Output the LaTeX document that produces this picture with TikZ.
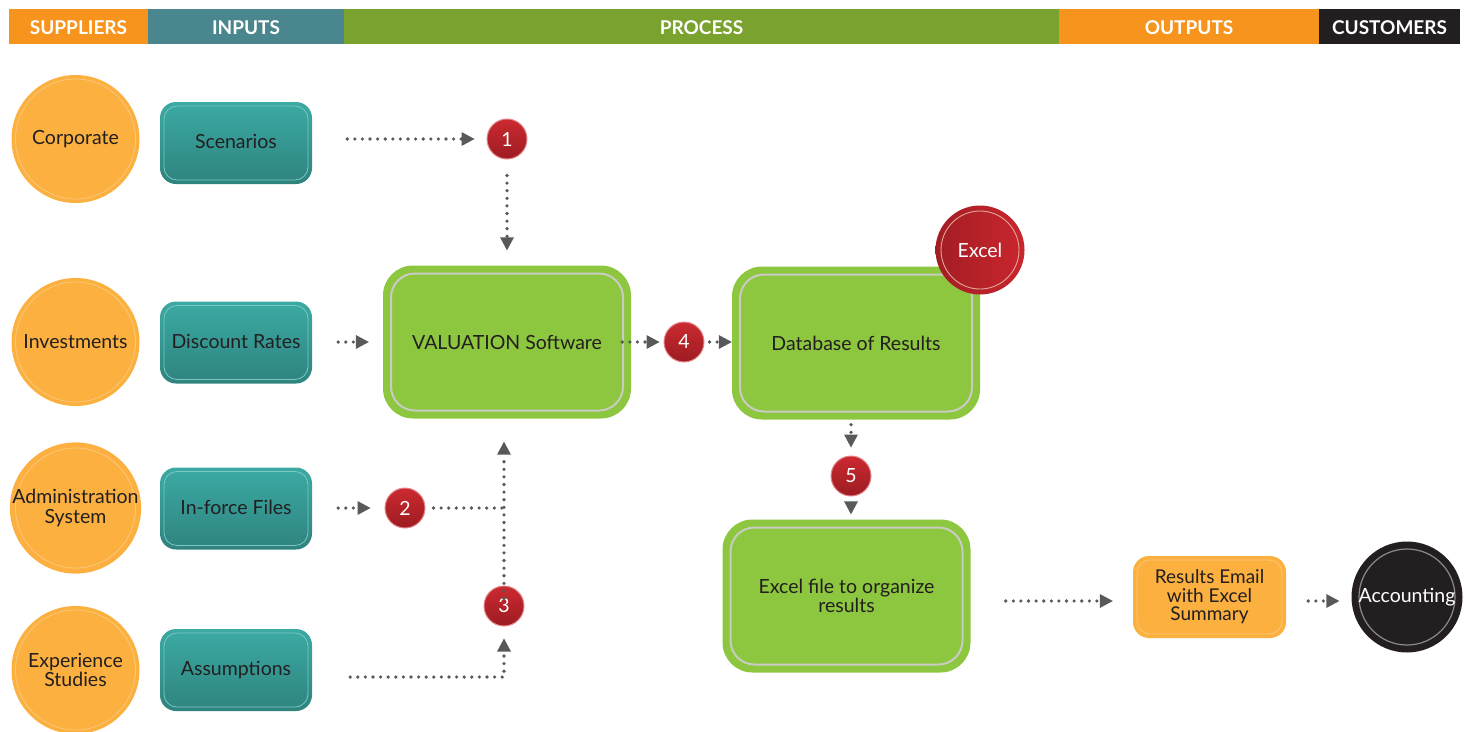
\documentclass[tikz,border=0pt]{standalone}
\usepackage{fontspec}
\setmainfont{Lato}
\usetikzlibrary{arrows.meta,calc}

\definecolor{ink}{HTML}{231F20}
\definecolor{hdrOrange}{HTML}{F7941D}
\definecolor{hdrTeal}{HTML}{4A868D}
\definecolor{hdrGreen}{HTML}{7AA22F}
\definecolor{hdrBlack}{HTML}{231F20}
\definecolor{sunOrange}{HTML}{FBB040}
\definecolor{sunRing}{HTML}{FCC877}
\definecolor{tealTop}{HTML}{3BAAA3}
\definecolor{tealBot}{HTML}{2F837F}
\definecolor{tealRing}{HTML}{7CC7C1}
\definecolor{leaf}{HTML}{8DC63F}
\definecolor{leafRing}{HTML}{C9CBC4}
\definecolor{redTop}{HTML}{CB2A30}
\definecolor{redBot}{HTML}{9C1C22}
\definecolor{redRing}{HTML}{E4868A}
\definecolor{redDark}{HTML}{A31D24}
\definecolor{redLight}{HTML}{CA262E}
\definecolor{redInner}{HTML}{E3A79A}
\definecolor{arrowGray}{HTML}{58595B}
\definecolor{accRing}{HTML}{8A8A8A}

\newcommand{\txtsize}{\fontsize{19.5}{19.5}\selectfont}

\begin{document}
\begin{tikzpicture}[x=1pt,y=-1pt,
  hdr/.style={rectangle, inner sep=0pt, outer sep=0pt, minimum height=35pt,
    text height=16pt, text depth=0pt,
    text=white, font=\fontsize{19}{19}\selectfont\bfseries},
  supplier/.style={circle, fill=sunOrange, minimum size=128pt, inner sep=0pt,
    text=ink, font=\txtsize, align=center,
    path picture={\draw[sunRing, line width=0.8pt]
      (path picture bounding box.center) circle (60pt);}},
  inputbox/.style={rectangle, rounded corners=16pt, minimum width=152pt,
    minimum height=82pt, inner sep=0pt, top color=tealTop, bottom color=tealBot,
    text=ink, font=\txtsize, text depth=3pt,
    path picture={\draw[tealRing, line width=0.8pt, rounded corners=13pt]
      ([shift={(4pt,-4pt)}]path picture bounding box.north west) rectangle
      ([shift={(-4pt,4pt)}]path picture bounding box.south east);}},
  procbox/.style={rectangle, rounded corners=30pt, minimum width=248pt,
    minimum height=153pt, inner sep=0pt, fill=leaf, text=ink, font=\txtsize,
    align=center,
    path picture={\draw[leafRing, line width=2pt, rounded corners=24pt]
      ([shift={(8pt,-8pt)}]path picture bounding box.north west) rectangle
      ([shift={(-8pt,8pt)}]path picture bounding box.south east);}},
  numdot/.style={circle, minimum size=40pt, inner sep=0pt, top color=redTop,
    bottom color=redBot, draw=redRing, line width=1pt, text=white,
    font=\txtsize},
  flowline/.style={draw=arrowGray, line width=3.6pt, line cap=round,
    dash pattern=on 0pt off 7.6pt},
  flow/.style={flowline, -{Triangle[length=13pt,width=14pt,line width=0pt]}}
]
\useasboundingbox (0,0) rectangle (1469,731);

% column headings
\node[hdr, fill=hdrOrange, minimum width=139pt] (hsup) at (78.5,26.5) {SUPPLIERS};
\node[hdr, fill=hdrTeal,   minimum width=196pt] (hin)  at (246,26.5)  {INPUTS};
\node[hdr, fill=hdrGreen,  minimum width=715pt] (hpro) at (701.5,26.5) {PROCESS};
\node[hdr, fill=hdrOrange, minimum width=260pt] (hout) at (1189,26.5) {OUTPUTS};
\node[hdr, fill=hdrBlack,  minimum width=141pt] (hcus) at (1389.5,26.5) {CUSTOMERS};

% suppliers
\node[supplier] (corp) at (75.5,139) {Corporate};
\node[supplier] (inv)  at (75.5,342) {Investments};
\node[supplier] (adm)  at (75.5,508) {Administration\\System};
\node[supplier] (exp)  at (75.5,670) {Experience\\Studies};

% inputs
\node[inputbox] (scen) at (236,143) {Scenarios};
\node[inputbox] (disc) at (236,342.5) {Discount Rates};
\node[inputbox] (inf)  at (236,508.5) {In-force Files};
\node[inputbox] (ass)  at (236,670) {Assumptions};

% process
\node[procbox] (val) at (507,342) {VALUATION Software};
\node[procbox] (db)  at (856,343) {Database of Results};
\node[procbox] (xl)  at (846.5,596) {Excel file to organize\\results};

% numbered steps
\node[numdot] (one)   at (507,139) {1};
\node[numdot] (two)   at (405,508) {2};
\node[numdot] (three) at (504,606) {3};
\node[numdot] (four)  at (684,342) {4};
\node[numdot] (five)  at (851,476) {5};

% Excel badge
\node[circle, minimum size=89pt, inner sep=0pt, left color=redDark,
  right color=redLight, text=white, font=\txtsize,
  path picture={\draw[redInner, line width=0.9pt]
    (path picture bounding box.center) circle (39pt);}] (badge) at (980,250) {Excel};

% outputs and customers
\node[rectangle, rounded corners=16pt, minimum width=153pt, minimum height=82pt,
  inner sep=0pt, fill=sunOrange, text=ink, font=\fontsize{19}{18.5}\selectfont,
  align=center,
  path picture={\draw[sunRing, line width=0.8pt, rounded corners=13pt]
    ([shift={(4pt,-4pt)}]path picture bounding box.north west) rectangle
    ([shift={(-4pt,4pt)}]path picture bounding box.south east);}]
  (res) at (1209.5,597) {Results Email\\with Excel\\Summary};
\node[circle, minimum size=111pt, inner sep=0pt, fill=hdrBlack, text=white,
  font=\fontsize{19.5}{19.5}\selectfont,
  path picture={\draw[accRing, line width=1.2pt]
    (path picture bounding box.center) circle (48pt);}] (acc) at (1407,597) {Accounting};

% connectors
\draw[flow] ([xshift=35pt]scen.east |- one.west) -- ([xshift=-12pt]one.west);
\draw[flow] ([yshift=-16pt]one.south) -- ([yshift=15pt]val.north);
\draw[flow] ([xshift=26pt]disc.east |- val.west) -- ([xshift=-14pt]val.west);
\draw[flow] ([xshift=-9pt]val.east) -- ([xshift=-4pt]four.west);
\draw[flow] ([xshift=5pt]four.east) -- (db.west |- four.east);
\draw[flow] ([yshift=-5pt]five.north |- db.south) -- ([yshift=8pt]five.north);
\draw[flow] ([yshift=-7pt]five.south) -- ([yshift=5pt]five.south |- xl.north);
\draw[flow] ([xshift=26pt]inf.east |- two.west) -- ([xshift=-14pt]two.west);
\coordinate (join) at (three.north |- two.east);
\draw[flowline] ([xshift=8pt]two.east) -- (join);
\draw[flow] ([yshift=-13pt]three.north) -- ([yshift=-23pt]three.north |- val.south);
\draw[flow] ([shift={(38pt,-7pt)}]ass.east) -| ([yshift=-12pt]three.south);
\draw[flow] ([shift={(35pt,-5pt)}]xl.east) -- ([shift={(-20pt,-4pt)}]res.west);
\draw[flow] ([shift={(22pt,-4pt)}]res.east) -- ([shift={(-12pt,-4pt)}]acc.west);
\end{tikzpicture}
\end{document}
